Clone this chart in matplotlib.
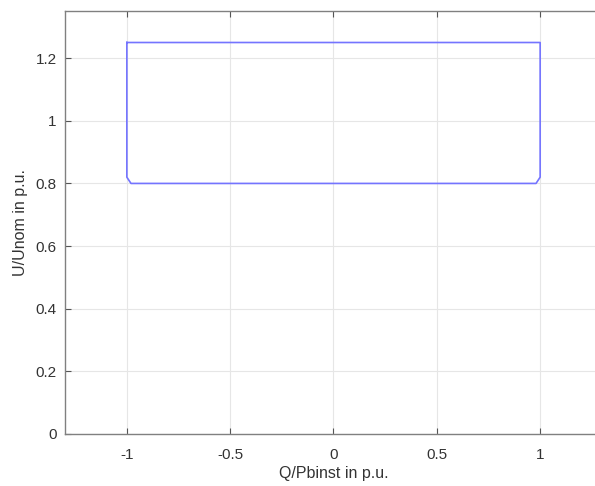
import numpy as np
import matplotlib
matplotlib.use('Agg')
import matplotlib.pyplot as plt

plt.rcParams['font.family'] = ['Liberation Sans', 'DejaVu Sans']

# Q-U operating envelope
q = [-1, 1, 1, 0.98, -0.98, -1, -1]
u = [1.25, 1.25, 0.82, 0.80, 0.80, 0.82, 1.25]

xticks = [-1, -0.5, 0, 0.5, 1]
yticks = [0, 0.2, 0.4, 0.6, 0.8, 1, 1.2]

fig = plt.figure(figsize=(5.95, 4.86), dpi=100)
ax = fig.add_axes([0.109, 0.107, 0.903, 0.870])

ax.plot(q, u, color='#7474ff', linewidth=1.2)

ax.set_xlim(-1.3, 1.3)
ax.set_ylim(0, 1.35)
ax.set_xticks(xticks)
ax.set_xticklabels(['-1', '-0.5', '0', '0.5', '1'])
ax.set_yticks(yticks)
ax.set_yticklabels(['0', '0.2', '0.4', '0.6', '0.8', '1', '1.2'])
ax.grid(True, color='#e6e6e6', linewidth=0.8)
ax.set_axisbelow(True)

for s in ax.spines.values():
    s.set_color('#808080')
    s.set_linewidth(1.0)
ax.spines['right'].set_visible(False)
ax.tick_params(direction='in', length=4, color='#555555', labelsize=11,
               labelcolor='#333333', top=True, right=False)
ax.tick_params(axis='x', pad=10)
ax.tick_params(axis='y', pad=6)

ax.set_xlabel('Q/Pbinst in p.u.', fontsize=11.5, color='#333333', labelpad=3)
ax.set_ylabel('U/Unom in p.u.', fontsize=11.5, color='#333333', labelpad=5)

fig.savefig('out.png', dpi=100)
